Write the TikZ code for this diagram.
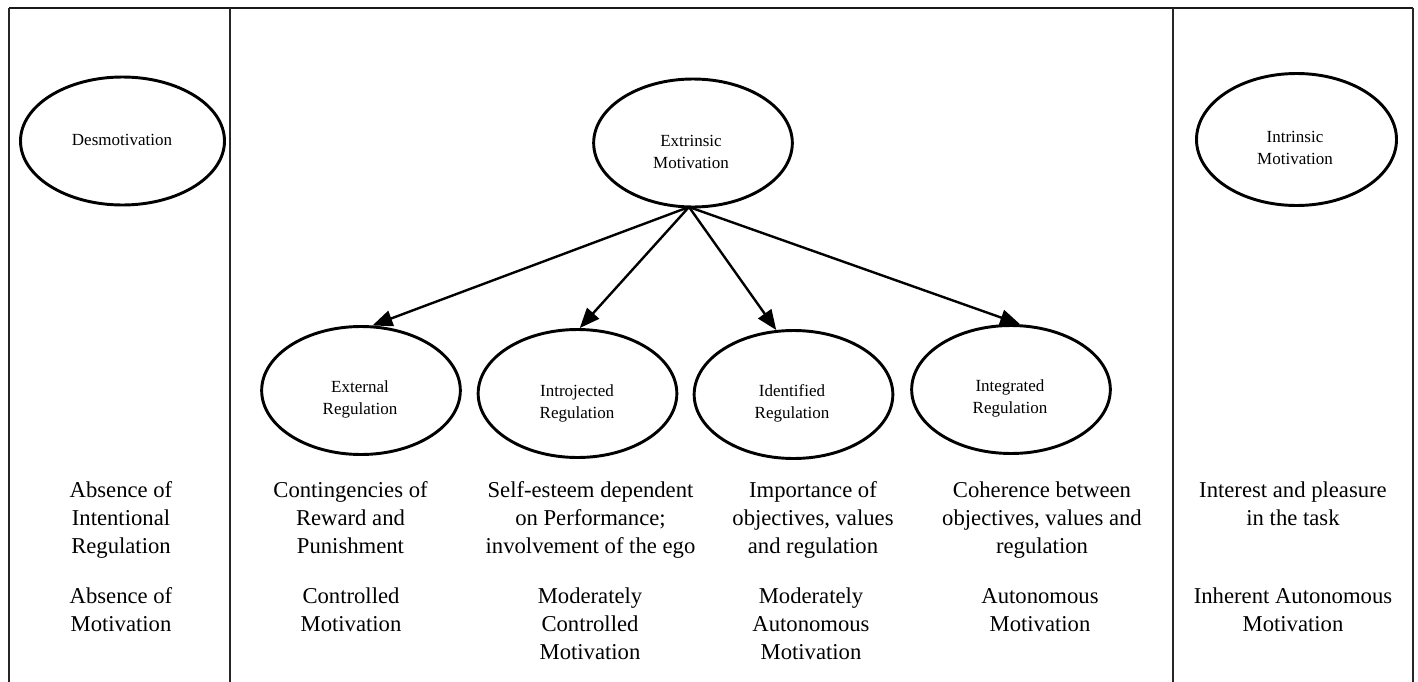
\documentclass[tikz,border=0pt]{standalone}
\usepackage{fontspec}
\setmainfont{Liberation Serif}
\usetikzlibrary{shapes.geometric,arrows.meta}
\begin{document}
\begin{tikzpicture}[x=0.75pt,y=-0.75pt,
  oval/.style={ellipse, draw, line width=2.2pt, minimum width=149pt, minimum height=96pt, inner sep=0pt},
  otext/.style={align=center, font=\fontsize{12.75}{16.5}\selectfont, inner sep=0pt},
  btext/.style={align=center, font=\fontsize{17}{21}\selectfont, inner sep=0pt,
                execute at begin node=\strut, execute at end node=\strut},
  vline/.style={line width=0.8pt, draw=black!85},
  hline/.style={line width=1.4pt, draw=black!90},
  arr/.style={line width=1.8pt, -{Triangle[length=15pt,width=12pt]}}]
\useasboundingbox (0,0) rectangle (1418,682);
% frame
\coordinate (t1) at (9,8);
\coordinate (t2) at (1413,8);
\coordinate (v1t) at (230,8);
\coordinate (v2t) at (1173,8);
\coordinate (b0) at (9,682);
\coordinate (b1) at (230,682);
\coordinate (b2) at (1173,682);
\coordinate (b3) at (1413,682);
\draw[hline] (t1) -- (t2);
\draw[vline] (t1) -- (b0);
\draw[vline] (v1t) -- (b1);
\draw[vline] (v2t) -- (b2);
\draw[vline] (t2) -- (b3);
% ellipses
\node[oval, minimum width=153pt] (des) at (122.5,141) {};
\node[otext] (dest) at (122,140) {Desmotivation};
\node[oval] (ext) at (693,143) {};
\node[otext] (extt) at (691,152) {Extrinsic\\Motivation};
\node[oval, minimum width=150pt, minimum height=99pt] (intr) at (1296.5,139.5) {};
\node[otext] (intrt) at (1295,147.5) {Intrinsic\\Motivation};
\node[oval] (extr) at (361,390.5) {};
\node[otext] (extrt) at (360,399.5) {External\\Regulation};
\node[oval] (intro) at (577.5,393.5) {};
\node[otext] (introt) at (577,403.5) {Introjected\\Regulation};
\node[oval] (iden) at (793.5,394.5) {};
\node[otext] (ident) at (792,403.5) {Identified\\Regulation};
\node[oval] (integ) at (1011,389.5) {};
\node[otext] (integt) at (1010,398.5) {Integrated\\Regulation};
% arrows
\coordinate (apex) at (689,207);
\draw[arr] (apex) -- (extr.80);
\draw[arr] (apex) -- (intro.88);
\draw[arr] (apex) -- (iden.105);
\draw[arr] (apex) -- (integ.82);
% bottom texts row 1
\node[btext] (r1c1) at (121,522) {Absence of\\Intentional\\Regulation};
\node[btext] (r1c2) at (350.5,522) {Contingencies of\\Reward and\\Punishment};
\node[btext] (r1c3) at (590.5,522) {Self-esteem dependent\\on Performance;\\involvement of the ego};
\node[btext] (r1c4) at (813,522) {Importance of\\objectives, values\\and regulation};
\node[btext] (r1c5) at (1042,522) {Coherence between\\objectives, values and\\regulation};
\node[btext] (r1c6) at (1293,508) {Interest and pleasure\\in the task};
% row 2
\node[btext] (r2c1) at (121,614) {Absence of\\Motivation};
\node[btext] (r2c2) at (351,614) {Controlled\\Motivation};
\node[btext] (r2c3) at (590,628) {Moderately\\Controlled\\Motivation};
\node[btext] (r2c4) at (811,628) {Moderately\\Autonomous\\Motivation};
\node[btext] (r2c5) at (1040,614) {Autonomous\\Motivation};
\node[btext] (r2c6) at (1293,614) {Inherent Autonomous\\Motivation};
\end{tikzpicture}
\end{document}
